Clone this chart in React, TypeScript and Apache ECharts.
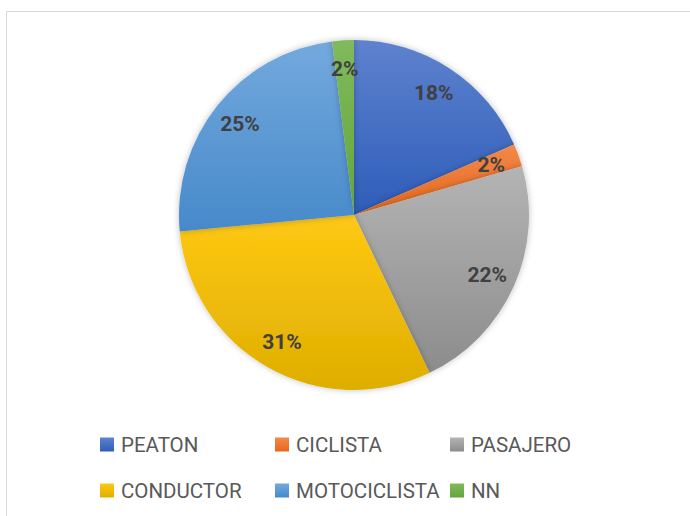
import React, { useEffect, useRef } from "react";
import * as echarts from "echarts";

const categories = ["PEATON", "CICLISTA", "PASAJERO", "CONDUCTOR", "MOTOCICLISTA", "NN"];
const values = [18.4, 2.1, 22.4, 30.6, 24.5, 2.0];
const topColors = ["#5E82CE", "#F3884A", "#B4B4B4", "#FFC814", "#73A9DD", "#80BA5C"];
const bottomColors = ["#2E5DB9", "#E5681B", "#8C8C8C", "#DEAE00", "#4789CA", "#63A53C"];
const legendPos = [
  [100, 434],
  [275, 434],
  [450, 434],
  [100, 480],
  [275, 480],
  [450, 480],
];

export default function App() {
  const ref = useRef<HTMLDivElement>(null);
  useEffect(() => {
    if (!ref.current) return;
    const chart = echarts.init(ref.current, undefined, { renderer: "svg" });
    const grad = (i: number) =>
      new echarts.graphic.LinearGradient(0, 0, 0, 1, [
        { offset: 0, color: topColors[i] },
        { offset: 1, color: bottomColors[i] },
      ]);
    const data = categories.map((name, i) => ({
      name,
      value: values[i],
      itemStyle: { color: grad(i) },
    }));
    chart.setOption({
      animation: false,
      backgroundColor: "#ffffff",
      graphic: [
        {
          type: "rect",
          shape: { x: 6.5, y: 11.5, width: 700, height: 520 },
          style: { fill: "none", stroke: "#d9d9d9", lineWidth: 1 },
          z: -10,
        },
      ],
      legend: categories.map((name, i) => ({
        data: [{ name, icon: "rect", itemStyle: { color: grad(i) } }],
        left: legendPos[i][0],
        top: legendPos[i][1],
        padding: 0,
        itemWidth: 14,
        itemHeight: 14,
        selectedMode: false,
        textStyle: {
          fontFamily: "Roboto",
          fontSize: 20.5,
          color: "#595959",
          padding: [0, 0, 0, 2],
        },
      })),
      series: [
        {
          type: "pie",
          center: [354, 215],
          radius: [0, 175],
          startAngle: 90,
          clockwise: true,
          label: { show: false },
          labelLine: { show: false },
          itemStyle: {
            borderWidth: 0,
            shadowBlur: 6,
            shadowColor: "rgba(0,0,0,0.25)",
          },
          emphasis: { disabled: true },
          data,
        },
        {
          type: "pie",
          center: [354, 215],
          radius: [111, 175],
          startAngle: 90,
          clockwise: true,
          silent: true,
          percentPrecision: 0,
          itemStyle: { color: "rgba(0,0,0,0)" },
          label: {
            show: true,
            position: "inside",
            formatter: "{d}%",
            fontFamily: "Roboto",
            fontWeight: "bold",
            fontSize: 21,
            color: "#404040",
          },
          labelLine: { show: false },
          emphasis: { disabled: true },
          data: categories.map((name, i) => ({ name, value: values[i] })),
        },
      ],
    });
    return () => chart.dispose();
  }, []);
  return (
    <div
      ref={ref}
      style={{ position: "fixed", left: 0, top: 0, width: 690, height: 516 }}
    />
  );
}
